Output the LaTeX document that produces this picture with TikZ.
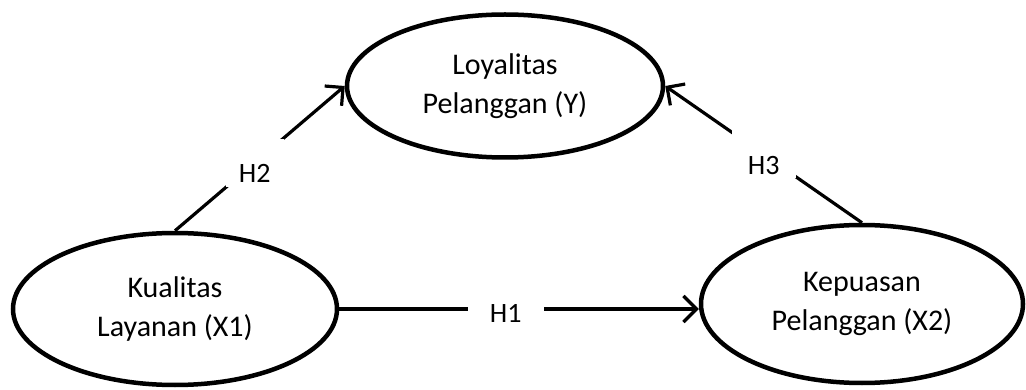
\documentclass[tikz,border=0pt]{standalone}
\usepackage{fontspec}
\setmainfont{Carlito}
\usetikzlibrary{shapes.geometric,arrows.meta}
\begin{document}
\begin{tikzpicture}[x=1pt,y=-1pt,
  var/.style={draw, ellipse, line width=4.5pt, inner sep=0pt, align=center,
    font=\fontsize{30}{39}\selectfont},
  link/.style={line width=3.2pt, -{Straight Barb[length=13pt,width=26pt]}},
  hyp/.style={fill=white, font=\fontsize{28}{30}\selectfont, inner sep=0pt,
    text height=44pt, text depth=4pt, minimum width=58pt},
  hyph/.style={fill=white, font=\fontsize{28}{30}\selectfont, inner sep=0pt,
    text height=28pt, text depth=0pt, minimum width=76pt}]
\useasboundingbox (0,0) rectangle (1026,390);
\node[var, minimum width=316pt, minimum height=143pt] (y) at (505,86) {Loyalitas\\Pelanggan (Y)};
\node[var, minimum width=324pt, minimum height=152pt] (x1) at (175,309) {Kualitas\\Layanan (X1)};
\node[var, minimum width=322pt, minimum height=158pt] (x2) at (862,304) {Kepuasan\\Pelanggan (X2)};
\draw[link] (x1.north) -- node[hyp, pos=0.47] {H2} (y.west);
\draw[link] (x2.north) -- node[hyp, pos=0.50, minimum width=64pt] {H3} (y.east);
\draw[link] (x1.east) -- node[hyph, pos=0.463] {H1} (x1.east -| x2.west);
\end{tikzpicture}
\end{document}
